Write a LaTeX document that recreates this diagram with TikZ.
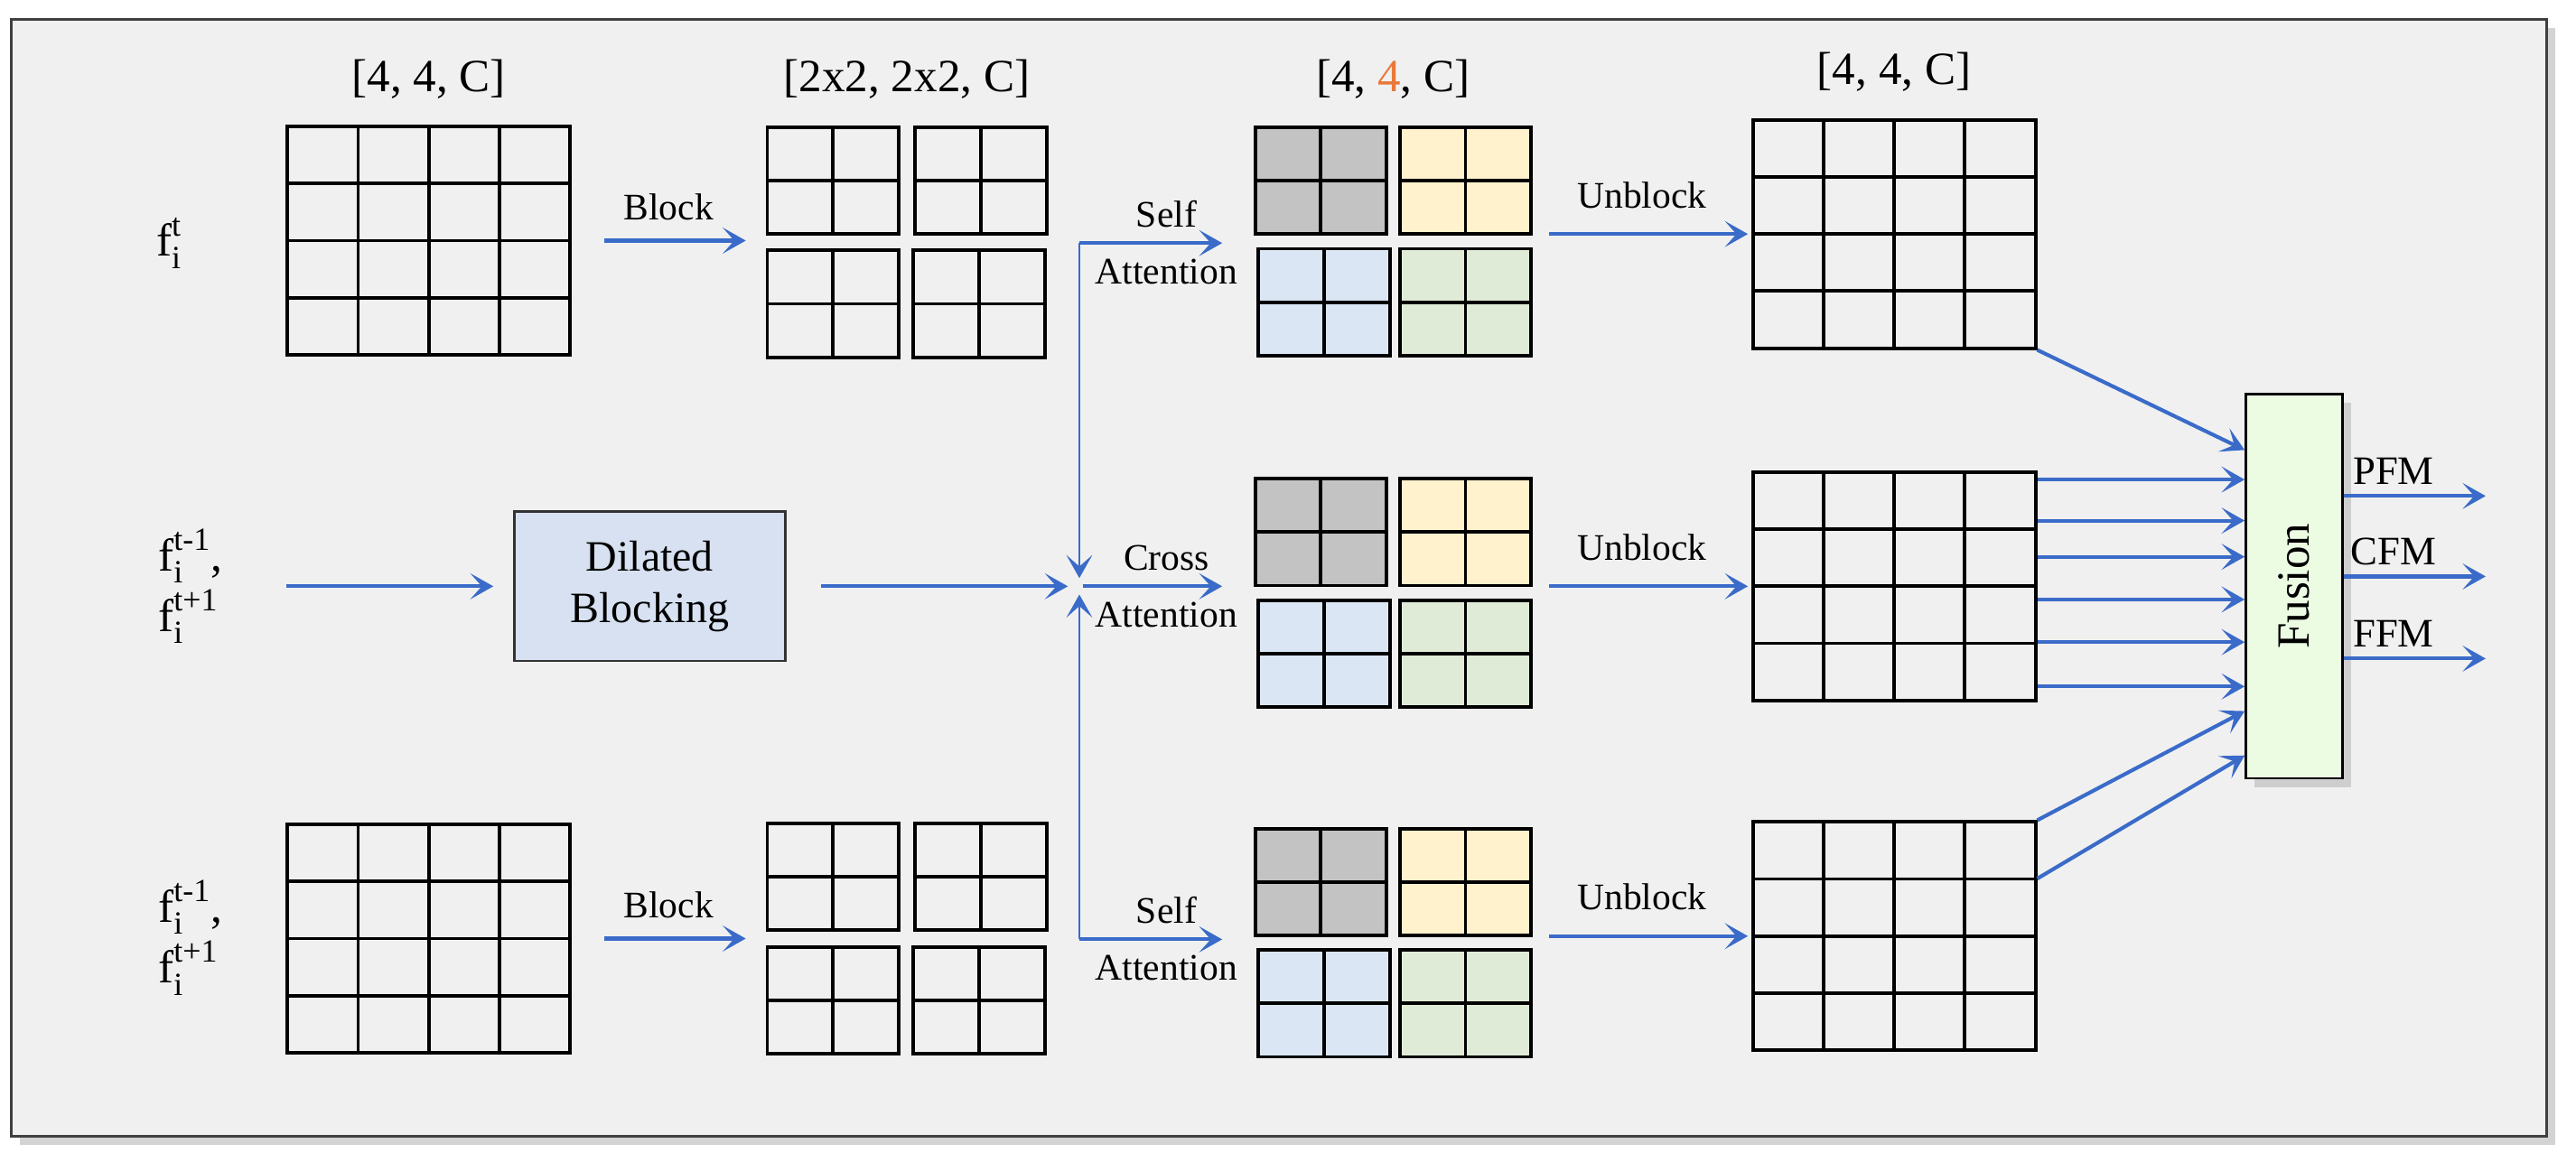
\documentclass[tikz,border=0pt]{standalone}
\usepackage{amsmath}
\usepackage{fontspec}
\setmainfont{Liberation Serif}
\usetikzlibrary{positioning,calc,arrows.meta,shadows}

\definecolor{arrowblue}{HTML}{3A6BC9}
\definecolor{panelgray}{HTML}{F0F0F0}
\definecolor{cellgray}{HTML}{C3C3C3}
\definecolor{cellyellow}{HTML}{FFF2CC}
\definecolor{cellblue}{HTML}{DAE6F4}
\definecolor{cellgreen}{HTML}{DFEBD7}
\definecolor{dilblue}{HTML}{D7E1F1}
\definecolor{fusegreen}{HTML}{EBFCE3}
\definecolor{hiorange}{HTML}{E8793A}

\newcommand{\feat}[1]{$\text{f}_\text{i}^\text{#1}$}

\tikzset{
  grid4/.style={draw, line width=1.2pt, minimum width=3.44cm, minimum height=2.78cm,
    path picture={
      \foreach \k in {1,2,3}{
        \draw[line width=1.2pt]
          ($(path picture bounding box.south west)!\k/4!(path picture bounding box.south east)$) --
          ($(path picture bounding box.north west)!\k/4!(path picture bounding box.north east)$);
        \draw[line width=1.2pt]
          ($(path picture bounding box.south west)!\k/4!(path picture bounding box.north west)$) --
          ($(path picture bounding box.south east)!\k/4!(path picture bounding box.north east)$);
      }}},
  blk/.style={draw, line width=1.2pt, fill=#1, minimum width=1.6cm, minimum height=1.3cm,
    path picture={
      \draw[line width=1.2pt] (path picture bounding box.south) -- (path picture bounding box.north);
      \draw[line width=1.2pt] (path picture bounding box.west) -- (path picture bounding box.east);
    }},
  blk/.default=none,
  dil/.style={draw=black!80, line width=0.8pt, fill=dilblue, minimum width=3.3cm, minimum height=1.82cm,
    align=center, font=\fontsize{15}{18}\selectfont},
  fuse/.style={draw, line width=0.8pt, fill=fusegreen, minimum width=1.18cm, minimum height=4.68cm,
    drop shadow={shadow xshift=3pt, shadow yshift=-3pt, opacity=0.3}},
  arr/.style={->, draw=arrowblue, line width=1.3pt},
  hdr/.style={font=\fontsize{16}{19}\selectfont},
  lbl/.style={font=\fontsize{13}{15}\selectfont},
  inp/.style={font=\fontsize{16}{21}\selectfont, align=left},
}

\begin{document}
\begin{tikzpicture}[x=0.2mm, y=-0.2mm, >={Stealth[length=8pt,width=9pt,inset=4pt]}]
\useasboundingbox (0,0) rectangle (1568,702);
%Frame
\draw[draw=black!75, line width=1pt, fill=panelgray,
  drop shadow={shadow xshift=3pt, shadow yshift=-3pt, opacity=0.35}] (7,12) rectangle (1550,692);

%Nodes
\node[inp]   (In1) at (103,148) {\feat{t}};
\node[inp]   (In2) at (116,357) {\feat{t-1},\\\feat{t+1}};
\node[inp]   (In3) at (116,571) {\feat{t-1},\\\feat{t+1}};

\node[grid4] (G1) at (261,146.5) {};
\node[grid4] (G2) at (261,571.5) {};
\node[dil]   (Dil) at (395.5,357) {Dilated\\Blocking};

\foreach \r/\yt in {1/110, 3/534}{
  \node[blk] (B\r a) at (507,\yt) {};
  \node[blk] (B\r b) at (597,\yt) {};
  \node[blk] (B\r c) at (507,\yt+75) {};
  \node[blk] (B\r d) at (596,\yt+75) {};
}

\foreach \r/\yt in {1/110, 2/324, 3/537}{
  \node[blk=cellgray]   (C\r a) at (804,\yt) {};
  \node[blk=cellyellow] (C\r b) at (892,\yt) {};
  \node[blk=cellblue]   (C\r c) at (806,\yt+74) {};
  \node[blk=cellgreen]  (C\r d) at (892,\yt+74) {};
}

\node[grid4] (U1) at (1153,142.5) {};
\node[grid4] (U2) at (1153,357) {};
\node[grid4] (U3) at (1153,570) {};

\node[fuse]  (F) at (1396.5,357) {};
\node[hdr, rotate=90] (Ftxt) at (F.center) {Fusion};

%Headers
\node[hdr] (hG1) at (261,48) {[4, 4, C]};
\node[hdr] (hB1) at (552,48) {[2x2, 2x2, C]};
\node[hdr] (hC1) at (848,48) {[4, \textcolor{hiorange}{4}, C]};
\node[hdr] (hU1) at (1153,44) {[4, 4, C]};

\coordinate (S1) at (657,148);
\coordinate (J)  at (657,357);
\coordinate (S3) at (657,572);

%Lines
\draw[arr, shorten <=0.4cm, shorten >=0.24cm] (G1.east) -- (G1.east -| B1a.west)
    node[midway, above=3pt, lbl]{Block};
\draw[arr, shorten <=0.4cm, shorten >=0.24cm] (G2.east) -- (G2.east -| B3a.west)
    node[midway, above=3pt, lbl]{Block};
\draw[arr, shorten <=0.65cm, shorten >=0.24cm] (In2.east |- Dil.west) -- (Dil.west);
\draw[arr, shorten <=0.42cm, shorten >=0.14cm] (Dil.east) -- (J);

\draw[arr, line width=0.8pt, shorten >=0.1cm] (S1) -- (J);
\draw[arr, line width=0.8pt, shorten >=0.1cm] (S3) -- (J);

\draw[arr, shorten >=0.38cm] (S1) -- (S1 -| C1a.west)
    node[midway, above=1.5pt, lbl]{Self}
    node[midway, below=1.5pt, lbl]{Attention};
\draw[arr, shorten <=0.04cm, shorten >=0.38cm] (J) -- (J -| C2a.west)
    node[midway, above=1.5pt, lbl]{Cross}
    node[midway, below=1.5pt, lbl]{Attention};
\draw[arr, shorten >=0.38cm] (S3) -- (S3 -| C3a.west)
    node[midway, above=1.5pt, lbl]{Self}
    node[midway, below=1.5pt, lbl]{Attention};

\draw[arr, shorten <=0.2cm, shorten >=0.04cm] (U1.west -| C1b.east) -- (U1.west)
    node[midway, above=5pt, lbl]{Unblock};
\draw[arr, shorten <=0.2cm, shorten >=0.04cm] (U2.west -| C2b.east) -- (U2.west)
    node[midway, above=5pt, lbl]{Unblock};
\draw[arr, shorten <=0.2cm, shorten >=0.04cm] (U3.west -| C3b.east) -- (U3.west)
    node[midway, above=5pt, lbl]{Unblock};

\draw[arr] (U1.south east) -- (F.west |- 0,274);
\foreach \y in {292,317,339,365,391,418}
  \draw[arr] (U2.east |- 0,\y) -- (F.west |- 0,\y);
\draw[arr] (U3.north east) -- (F.west |- 0,433);
\draw[arr] (U3.east |- 0,535) -- (F.west |- 0,460);

\foreach \y/\t in {302/PFM, 351/CFM, 401/FFM}{
  \coordinate (out\t) at (1513,\y);
  \draw[arr] (F.east |- out\t) -- (out\t)
      node[pos=0.35, above=0pt, font=\fontsize{14}{16}\selectfont]{\t};
}
\end{tikzpicture}
\end{document}
